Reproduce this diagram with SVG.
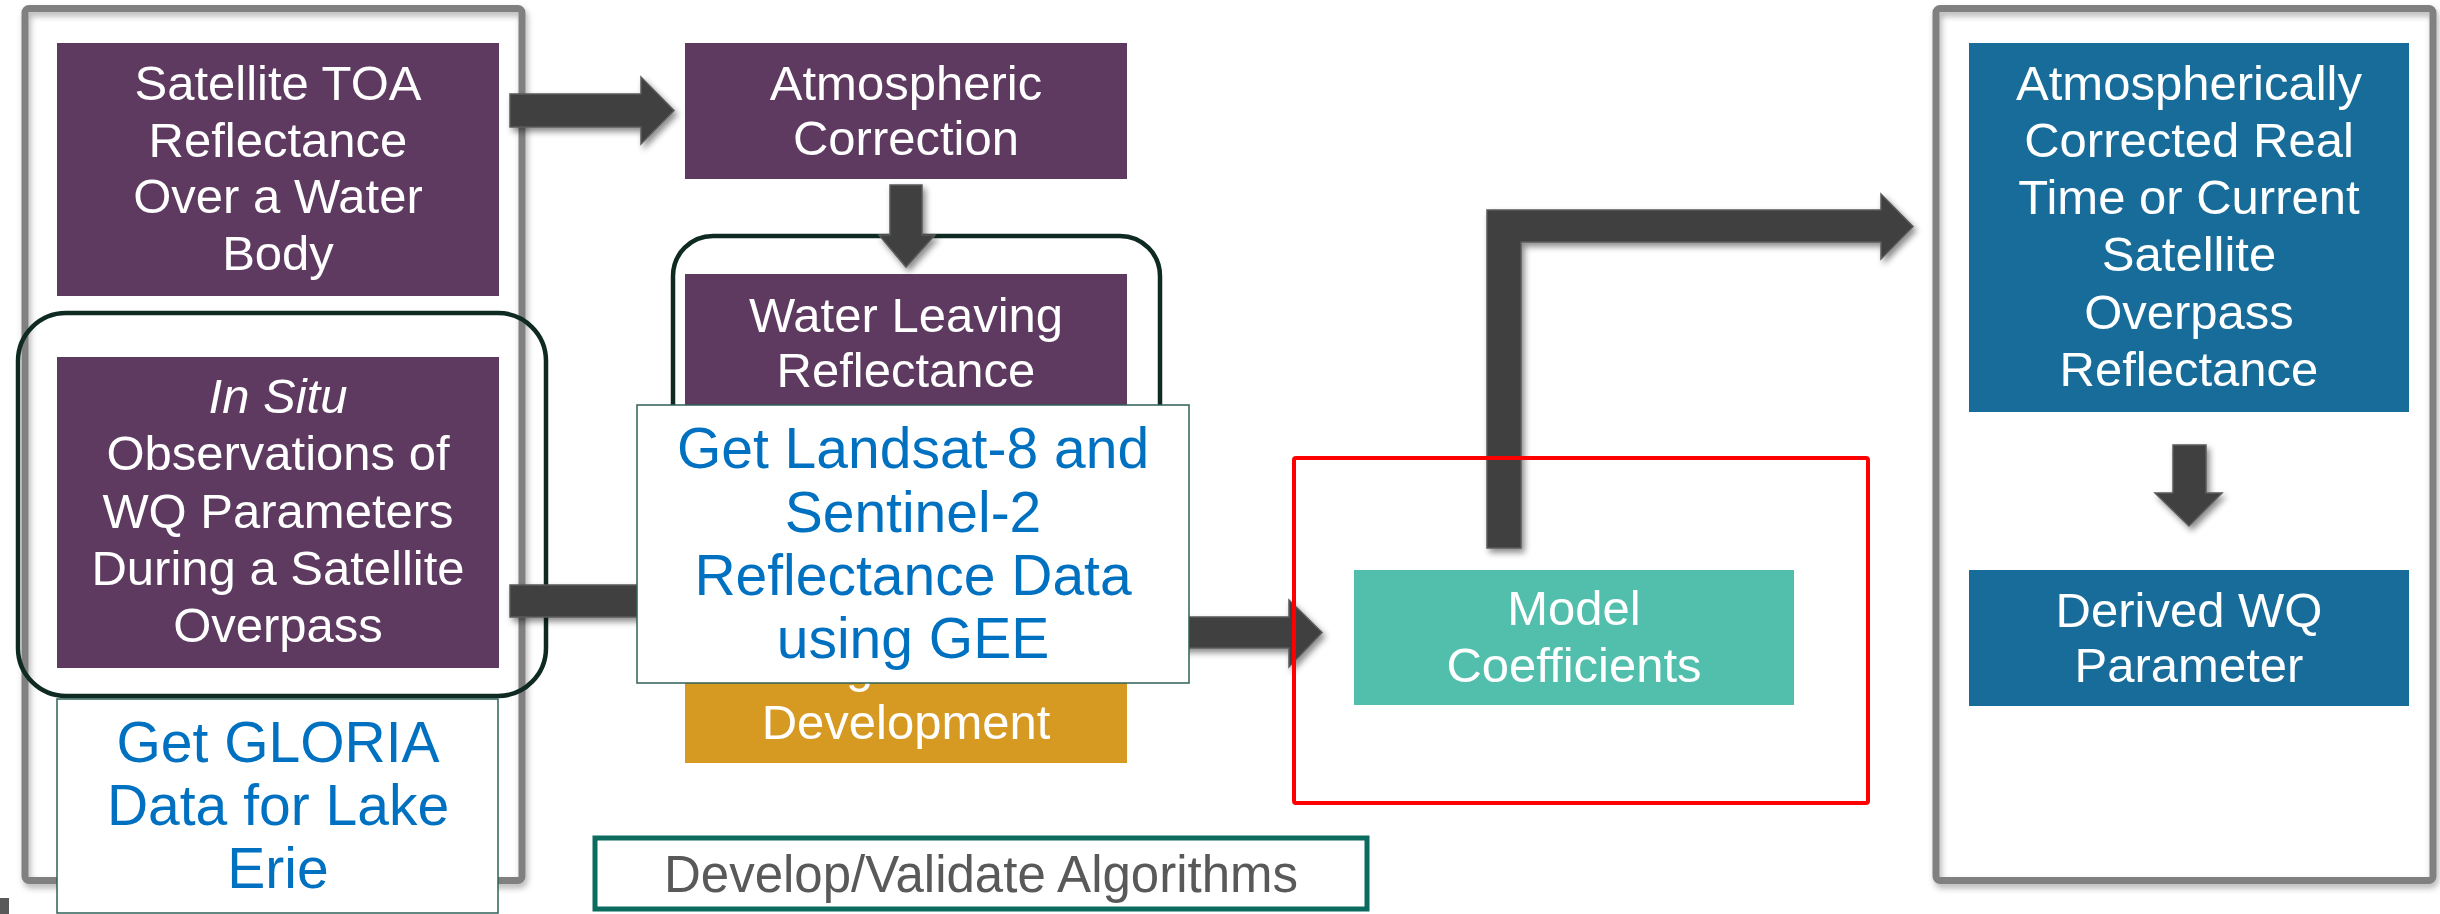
<svg xmlns="http://www.w3.org/2000/svg" width="2440" height="914" viewBox="0 0 2440 914">
<defs>
<filter id="sh" x="-20%" y="-20%" width="150%" height="150%">
<feDropShadow dx="3" dy="4" stdDeviation="3" flood-color="#000" flood-opacity="0.45"/>
</filter>
<filter id="fsh" x="-5%" y="-5%" width="110%" height="110%">
<feDropShadow dx="2" dy="4" stdDeviation="3" flood-color="#000" flood-opacity="0.3"/>
</filter>
</defs>
<style>
.frame{fill:none;stroke:#808080;stroke-width:7}
.purple{fill:#5E3A61}
.blue{fill:#176C9A}
.teal{fill:#52BFAD}
.gold{fill:#D69A22}
.wbox{fill:#fff;stroke:#2F5F57;stroke-width:1.5}
.group{fill:none;stroke:#0E2A22;stroke-width:4.5}
.arrow{fill:#404040;stroke:#5A5A5A;stroke-width:1.5;filter:url(#sh)}
.red{fill:none;stroke:#FF0000;stroke-width:4}
text{font-family:"Liberation Sans",Arial,sans-serif;text-anchor:middle}
.wt{fill:#fff;font-size:49px}
.bt{fill:#0070C0;font-size:57px}
.gt{fill:#595959;font-size:51px}
</style>
<rect width="2440" height="914" fill="#fff"/>

<g id="left-frame"><rect class="frame" x="25" y="8.5" width="497" height="872" rx="4" filter="url(#fsh)"/></g>
<g id="right-frame"><rect class="frame" x="1936" y="8.5" width="497" height="872" rx="4" filter="url(#fsh)"/></g>
<rect x="0" y="898" width="9" height="16" fill="#595959"/>

<g id="insitu-group"><rect class="group" x="18" y="313" width="528" height="383" rx="48"/></g>
<g id="water-group"><rect class="group" x="673" y="236" width="487" height="384" rx="40"/></g>

<g id="satellite-toa">
<rect class="purple" x="57" y="43" width="442" height="253"/>
<text class="wt" x="278" y="100">Satellite TOA</text>
<text class="wt" x="278" y="157">Reflectance</text>
<text class="wt" x="278" y="213">Over a Water</text>
<text class="wt" x="278" y="270">Body</text>
</g>

<g id="atmospheric-correction">
<rect class="purple" x="685" y="43" width="442" height="136"/>
<text class="wt" x="906" y="100">Atmospheric</text>
<text class="wt" x="906" y="155">Correction</text>
</g>

<g id="water-leaving">
<rect class="purple" x="685" y="274" width="442" height="300"/>
<text class="wt" x="906" y="332">Water Leaving</text>
<text class="wt" x="906" y="387">Reflectance</text>
</g>

<g id="in-situ">
<rect class="purple" x="57" y="357" width="442" height="311"/>
<text class="wt" x="278" y="413" font-style="italic">In Situ</text>
<text class="wt" x="278" y="470">Observations of</text>
<text class="wt" x="278" y="528">WQ Parameters</text>
<text class="wt" x="278" y="585">During a Satellite</text>
<text class="wt" x="278" y="642">Overpass</text>
</g>

<g id="algorithm-development">
<rect class="gold" x="685" y="627" width="442" height="136"/>
<text class="wt" x="906" y="682">Algorithm</text>
<text class="wt" x="906" y="739">Development</text>
</g>

<g id="connectors">
<path class="arrow" d="M510,94 L641,94 L641,77 L674,110.5 L641,144 L641,127 L510,127 Z"/>
<path class="arrow" d="M890,185 L922,185 L922,235 L935,235 L906,267 L879,235 L890,235 Z"/>
<path class="arrow" d="M510,585 L655,585 L655,568 L688,601 L655,634 L655,617 L510,617 Z"/>
<path class="arrow" d="M1127,617 L1289,617 L1289,600 L1322,632.5 L1289,667 L1289,648 L1127,648 Z"/>
<path class="arrow" d="M1487,548 L1487,210 L1881,210 L1881,194 L1913,226.5 L1881,259 L1881,242 L1521,242 L1521,548 Z"/>
<path class="arrow" d="M2173,445 L2206,445 L2206,493 L2222,493 L2189,526 L2155,493 L2173,493 Z"/>
</g>

<g id="get-landsat">
<rect class="wbox" x="637" y="405" width="552" height="278"/>
<text class="bt" x="913" y="468">Get Landsat-8 and</text>
<text class="bt" x="913" y="532">Sentinel-2</text>
<text class="bt" x="913" y="595">Reflectance Data</text>
<text class="bt" x="913" y="658">using GEE</text>
</g>

<g id="get-gloria">
<rect class="wbox" x="57" y="699" width="441" height="214"/>
<text class="bt" x="278" y="762">Get GLORIA</text>
<text class="bt" x="278" y="825">Data for Lake</text>
<text class="bt" x="278" y="888">Erie</text>
</g>

<g id="develop-validate">
<rect x="595" y="838" width="772" height="71" fill="#fff" stroke="#0B6B5E" stroke-width="5"/>
<text class="gt" x="981" y="892">Develop/Validate Algorithms</text>
</g>

<g id="model-coefficients">
<rect class="teal" x="1354" y="570" width="440" height="135"/>
<text class="wt" x="1574" y="625">Model</text>
<text class="wt" x="1574" y="682">Coefficients</text>
</g>

<g id="red-highlight"><rect class="red" x="1294" y="458" width="574" height="345" rx="2"/></g>

<g id="corrected-reflectance">
<rect class="blue" x="1969" y="43" width="440" height="369"/>
<text class="wt" x="2189" y="100">Atmospherically</text>
<text class="wt" x="2189" y="157">Corrected Real</text>
<text class="wt" x="2189" y="214">Time or Current</text>
<text class="wt" x="2189" y="271">Satellite</text>
<text class="wt" x="2189" y="329">Overpass</text>
<text class="wt" x="2189" y="386">Reflectance</text>
</g>

<g id="derived-wq">
<rect class="blue" x="1969" y="570" width="440" height="136"/>
<text class="wt" x="2189" y="627">Derived WQ</text>
<text class="wt" x="2189" y="682">Parameter</text>
</g>
</svg>
